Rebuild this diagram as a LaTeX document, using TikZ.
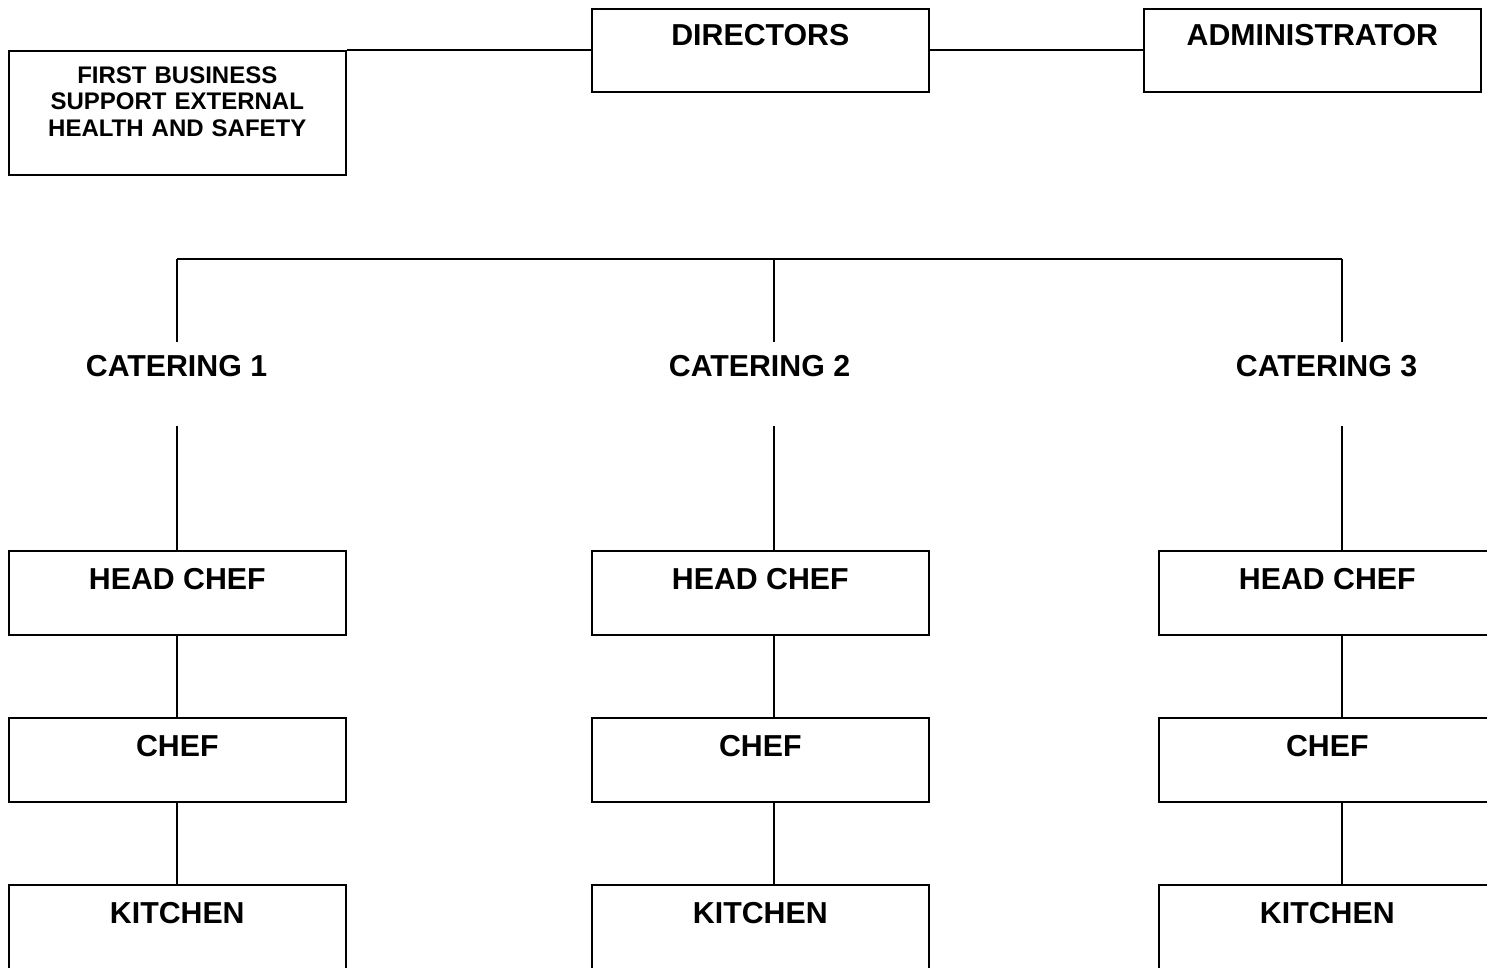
\documentclass[tikz,border=0pt]{standalone}
\usepackage{fontspec}
\setmainfont{Liberation Sans}
\usetikzlibrary{positioning}

\tikzset{
  orgbox/.style={draw, line width=1.6pt, anchor=north west,
    inner xsep=0pt, inner ysep=0pt, minimum width=337pt,
    text height=39pt, text depth=45pt,
    font=\fontsize{30.3}{36}\selectfont\bfseries},
  grouplabel/.style={anchor=north, inner sep=0pt,
    text height=34pt, text depth=50pt,
    font=\fontsize{30.3}{36}\selectfont\bfseries},
  orgline/.style={line width=1.6pt}
}

\begin{document}
\begin{tikzpicture}[x=1pt, y=-1pt]
      \useasboundingbox (0,0) rectangle (1487,968);
      % Top row
      \node[orgbox, text height=37pt, text depth=46pt] (dir) at (591,8) {DIRECTORS};
      \node[orgbox, text height=37pt, text depth=46pt] (adm) at (1143,8) {ADMINISTRATOR};
      \node[orgbox, text width=337pt, align=center,
            text height=32.6pt, text depth=91.4pt,
            font=\fontsize{24}{26.5}\selectfont\bfseries] (fb) at (8,50)
            {FIRST BUSINESS\\SUPPORT EXTERNAL\\HEALTH AND SAFETY};
      \draw[orgline] (fb.north east) -- (fb.north east -| dir.west);
      \draw[orgline] (dir.east |- fb.north) -- (adm.west |- fb.north);

      % Bus
      \coordinate (bus1) at (177,259);
      \coordinate (bus2) at (774,259);
      \coordinate (bus3) at (1342,259);
      \draw[orgline] (bus1) -- (bus2) -- (bus3);

      % Catering groups
      \node[grouplabel] (cat1) at (176.5,342) {CATERING 1};
      \node[grouplabel] (cat2) at (759.5,342) {CATERING 2};
      \node[grouplabel] (cat3) at (1326.5,342) {CATERING 3};

      % Column 1
      \node[orgbox] (hc1) at (8,550) {HEAD CHEF};
      \node[orgbox] (ch1) at (8,717) {CHEF};
      \node[orgbox] (kit1) at (8,884) {KITCHEN};
      % Column 2
      \node[orgbox] (hc2) at (591,550) {HEAD CHEF};
      \node[orgbox] (ch2) at (591,717) {CHEF};
      \node[orgbox] (kit2) at (591,884) {KITCHEN};
      % Column 3
      \node[orgbox] (hc3) at (1158,550) {HEAD CHEF};
      \node[orgbox] (ch3) at (1158,717) {CHEF};
      \node[orgbox] (kit3) at (1158,884) {KITCHEN};

      % Connectors
      \draw[orgline] (bus1) -- (bus1 |- cat1.north);
      \draw[orgline] (bus1 |- cat1.south) -- (bus1 |- hc1.north);
      \draw[orgline] (bus1 |- hc1.south) -- (bus1 |- ch1.north);
      \draw[orgline] (bus1 |- ch1.south) -- (bus1 |- kit1.north);

      \draw[orgline] (bus2) -- (bus2 |- cat2.north);
      \draw[orgline] (bus2 |- cat2.south) -- (bus2 |- hc2.north);
      \draw[orgline] (bus2 |- hc2.south) -- (bus2 |- ch2.north);
      \draw[orgline] (bus2 |- ch2.south) -- (bus2 |- kit2.north);

      \draw[orgline] (bus3) -- (bus3 |- cat3.north);
      \draw[orgline] (bus3 |- cat3.south) -- (bus3 |- hc3.north);
      \draw[orgline] (bus3 |- hc3.south) -- (bus3 |- ch3.north);
      \draw[orgline] (bus3 |- ch3.south) -- (bus3 |- kit3.north);
    \end{tikzpicture}
\end{document}
